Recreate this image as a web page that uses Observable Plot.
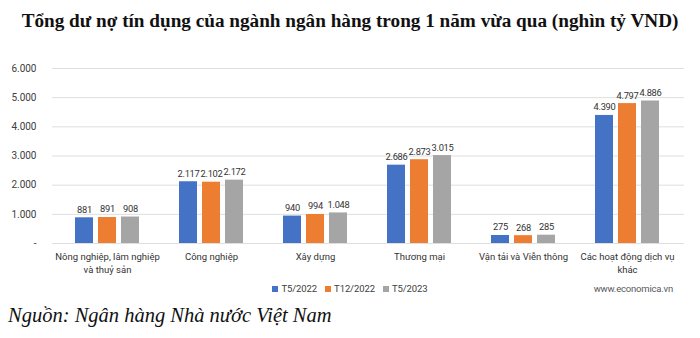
<!DOCTYPE html>
<html>
<head>
<meta charset="utf-8">
<script src="https://cdn.jsdelivr.net/npm/d3@7"></script>
<script src="https://cdn.jsdelivr.net/npm/@observablehq/plot@0.6"></script>
<style>
  html, body { margin: 0; padding: 0; background: #fff; }
  #wrap { position: relative; width: 700px; height: 338px; overflow: hidden; background: #fff; }
  #title { position: absolute; left: 0; top: 10px; width: 700px; text-align: center;
    font-family: "Liberation Serif", "DejaVu Serif", serif; font-weight: bold; font-size: 19.2px; color: #111; white-space: nowrap; }
  #bg, #chart { position: absolute; left: 0; top: 50px; }
  #legend { position: absolute; left: 0; top: 283px; width: 700px; text-align: center;
    font-family: Roboto, sans-serif; font-size: 9.5px; color: #404040; letter-spacing: -0.1px; }
  #legend span.item { display: inline-block; margin: 0 4px; }
  #legend span.sw { display: inline-block; width: 6px; height: 6px; margin-right: 3px; vertical-align: 0px; }
  #site { position: absolute; right: 27px; top: 283px; font-family: Roboto, sans-serif; font-size: 9.5px; letter-spacing: -0.2px; color: #595959; }
  #source { position: absolute; left: 8px; top: 304px; font-family: "Liberation Serif", "DejaVu Serif", serif; font-style: italic; font-size: 20.5px; color: #111; white-space: nowrap; }
  #chart g[aria-label="text"] text { letter-spacing: -0.25px; }
</style>
</head>
<body>
<div id="wrap">
  <div id="title">Tổng dư nợ tín dụng của ngành ngân hàng trong 1 năm vừa qua (nghìn tỷ VND)</div>
  <div id="bg"></div>
  <div id="chart"></div>
  <div id="legend"></div>
  <div id="site">www.economica.vn</div>
  <div id="source">Nguồn: Ngân hàng Nhà nước Việt Nam</div>
</div>
<script>
const categories = [
  "Nông nghiệp, lâm nghiệp\nvà thuỷ sản",
  "Công nghiệp",
  "Xây dựng",
  "Thương mại",
  "Vận tải và Viễn thông",
  "Các hoạt động dịch vụ\nkhác"
];
const seriesNames = ["T5/2022", "T12/2022", "T5/2023"];
const t5_2022  = [881, 2117, 940, 2686, 275, 4390];
const t12_2022 = [891, 2102, 994, 2873, 268, 4797];
const t5_2023  = [908, 2172, 1048, 3015, 285, 4886];
const yTicks = [0, 1000, 2000, 3000, 4000, 5000, 6000];
const colors = ["#4472C4", "#ED7D31", "#A5A5A5"];

const seriesValues = [t5_2022, t12_2022, t5_2023];
const data = [];
categories.forEach((c, i) => {
  seriesNames.forEach((s, j) => data.push({cat: c, series: s, value: seriesValues[j][i]}));
});

const loc = d3.formatLocale({decimal: ",", thousands: ".", grouping: [3], currency: ["", ""]});
const fmt = loc.format(",d");

const font = "Roboto, sans-serif";
const dims = {width: 700, height: 232, marginLeft: 52, marginRight: 19, marginTop: 18, marginBottom: 39};

// background: grid + y axis
const bg = Plot.plot({
  ...dims,
  marginRight: 16,
  style: {fontFamily: font, fontSize: "10px", color: "#404040", background: "transparent"},
  y: {domain: [0, 6000]},
  marks: [
    Plot.ruleY(yTicks, {stroke: "#dedede", strokeWidth: 1}),
    Plot.axisY(yTicks, {tickSize: 0, tickPadding: 16, tickFormat: d => d === 0 ? "-" : fmt(d), label: null, fontSize: 10, fill: "#404040"})
  ]
});
document.getElementById("bg").appendChild(bg);

const chart = Plot.plot({
  ...dims,
  style: {fontFamily: font, fontSize: "10px", color: "#404040", background: "transparent"},
  fx: {domain: categories, paddingInner: 0.389, paddingOuter: 0.191},
  x: {domain: seriesNames, axis: null, paddingInner: 0.22, paddingOuter: 0},
  y: {domain: [0, 6000], axis: null},
  color: {domain: seriesNames, range: colors},
  marks: [
    Plot.axisFx({anchor: "bottom", label: null, tickSize: 0, tickPadding: 8, lineHeight: 1.3, fontSize: 9.5, fill: "#333"}),
    Plot.barY(data, {fx: "cat", x: "series", y: "value", fill: "series"}),
    Plot.text(data, {fx: "cat", x: "series", y: "value", text: d => fmt(d.value), dy: -8, fill: "#333", fontSize: 9.3})
  ]
});
document.getElementById("chart").appendChild(chart);

const legend = document.getElementById("legend");
seriesNames.forEach((s, i) => {
  const item = document.createElement("span");
  item.className = "item";
  const sw = document.createElement("span");
  sw.className = "sw";
  sw.style.background = colors[i];
  item.appendChild(sw);
  item.appendChild(document.createTextNode(s));
  legend.appendChild(item);
});
</script>
</body>
</html>
